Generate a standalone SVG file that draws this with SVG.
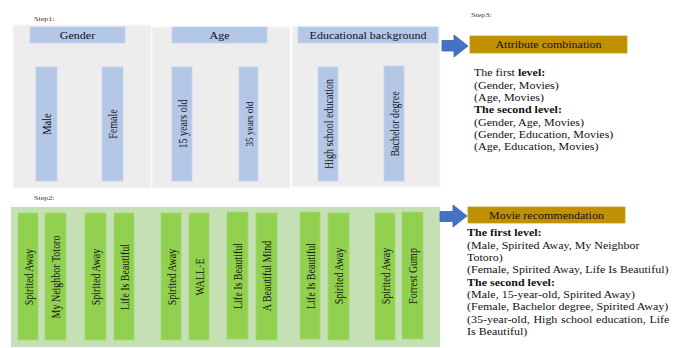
<svg xmlns="http://www.w3.org/2000/svg" width="686" height="348" viewBox="0 0 686 348">
<style>
text{font-family:"Liberation Serif","Times New Roman",serif;fill:#111}
.step{font-size:6.7px;fill:#333}
.panel{fill:#ededed;stroke:#f7f7f7;stroke-width:1}
.hdr{fill:#b4c7e7;stroke:#c5d4ee;stroke-width:0.8}
.hdrt{font-size:10px;text-anchor:middle}
.bbar{fill:#b4c7e7;stroke:#c5d4ee;stroke-width:0.8}
.gpanel{fill:#c5e0b4}
.gbar{fill:#92d050;stroke:#a6da70;stroke-width:0.8}
.vt{font-size:10px;text-anchor:middle;dominant-baseline:central}
.gold{fill:#bf9000;stroke:#c99b12;stroke-width:0.8}
.goldt{font-size:10px;text-anchor:middle}
.arrow{fill:#4472c4;stroke:#3a64b0;stroke-width:0.8}
.body{font-size:10px}
.b{font-weight:bold}
</style>

<g transform="scale(1.2,1)">
<text class="step" x="28.3" y="21.5">Step1:</text>
<text class="step" x="392.5" y="17">Step3:</text>
<text class="step" x="28.3" y="200">Step2:</text>
</g>

<g id="panel-gender">
<rect class="panel" x="13" y="25" width="138" height="163"/>
<rect class="hdr" x="30" y="27" width="95" height="16"/>
<text class="hdrt" transform="scale(1.2,1)" x="64.58" y="39">Gender</text>
<rect class="bbar" x="36" y="67" width="21" height="114"/>
<text class="vt" style="font-size:10.5px" transform="translate(47 124) scale(1.2,1) rotate(-90)">Male</text>
<rect class="bbar" x="102" y="67" width="21" height="114"/>
<text class="vt" transform="translate(113 124) scale(1.2,1) rotate(-90)">Female</text>
</g>

<g id="panel-age">
<rect class="panel" x="152" y="27" width="138" height="161"/>
<rect class="hdr" x="172" y="27" width="95" height="16"/>
<text class="hdrt" transform="scale(1.2,1)" x="182.92" y="39">Age</text>
<rect class="bbar" x="172" y="67" width="20" height="114"/>
<text class="vt" transform="translate(182.5 124) scale(1.2,1) rotate(-90)">15 years old</text>
<rect class="bbar" x="239" y="67" width="19" height="114"/>
<text class="vt" style="font-size:9.2px" transform="translate(249 124) scale(1.2,1) rotate(-90)">35 years old</text>
</g>

<g id="panel-education">
<rect class="panel" x="292" y="26" width="148" height="161"/>
<rect class="hdr" x="298" y="27" width="140" height="16"/>
<text class="hdrt" transform="scale(1.2,1)" x="306.67" y="39">Educational background</text>
<rect class="bbar" x="318" y="67" width="20" height="114"/>
<text class="vt" transform="translate(328.5 124) scale(1.2,1) rotate(-90)">High school education</text>
<rect class="bbar" x="384" y="66" width="20" height="115"/>
<text class="vt" transform="translate(394.5 124) scale(1.2,1) rotate(-90)">Bachelor degree</text>
</g>

<g id="attribute-combination">
<rect class="gold" x="470" y="36" width="157" height="17"/>
<text class="goldt" transform="scale(1.2,1)" x="457.08" y="48.5">Attribute combination</text>
<g transform="scale(1.2,1)">
<text class="body" x="395" y="76.5">The first <tspan class="b">level:</tspan></text>
<text class="body" x="395" y="88.8">(Gender, Movies)</text>
<text class="body" x="395" y="101.1">(Age, Movies)</text>
<text class="body b" x="395" y="113.4">The second level:</text>
<text class="body" x="395" y="125.7">(Gender, Age, Movies)</text>
<text class="body" x="395" y="138">(Gender, Education, Movies)</text>
<text class="body" x="395" y="150.3">(Age, Education, Movies)</text>
</g>
</g>

<g id="panel-movies">
<rect class="gpanel" x="11" y="207" width="429" height="140"/>
<rect class="gbar" x="18" y="213" width="20" height="127"/>
<text class="vt" transform="translate(28.5 277) scale(1.2,1) rotate(-90)">Spirited Away</text>
<rect class="gbar" x="45" y="213" width="21" height="127"/>
<text class="vt" transform="translate(56 277) scale(1.2,1) rotate(-90)">My Neighbor Totoro</text>
<rect class="gbar" x="85" y="213" width="21" height="127"/>
<text class="vt" transform="translate(96 277) scale(1.2,1) rotate(-90)">Spirited Away</text>
<rect class="gbar" x="114" y="213" width="20" height="127"/>
<text class="vt" transform="translate(124.5 277) scale(1.2,1) rotate(-90)">Life Is Beautiful</text>
<rect class="gbar" x="161" y="213" width="20" height="127"/>
<text class="vt" transform="translate(171.5 277) scale(1.2,1) rotate(-90)">Spirited Away</text>
<rect class="gbar" x="189" y="213" width="20" height="127"/>
<text class="vt" transform="translate(199.5 277) scale(1.2,1) rotate(-90)">WALL·E</text>
<rect class="gbar" x="227" y="212" width="21" height="127"/>
<text class="vt" transform="translate(238 276) scale(1.2,1) rotate(-90)">Life Is Beautiful</text>
<rect class="gbar" x="256" y="213" width="21" height="127"/>
<text class="vt" transform="translate(267 276) scale(1.2,1) rotate(-90)">A Beautiful Mind</text>
<rect class="gbar" x="300" y="212" width="20" height="127"/>
<text class="vt" transform="translate(310.5 276) scale(1.2,1) rotate(-90)">Life Is Beautiful</text>
<rect class="gbar" x="328" y="213" width="21" height="127"/>
<text class="vt" transform="translate(339 276) scale(1.2,1) rotate(-90)">Spirited Away</text>
<rect class="gbar" x="375" y="213" width="20" height="127"/>
<text class="vt" transform="translate(385.5 276) scale(1.2,1) rotate(-90)">Spirited Away</text>
<rect class="gbar" x="402" y="212" width="21" height="127"/>
<text class="vt" transform="translate(413 276) scale(1.2,1) rotate(-90)">Forrest Gump</text>
</g>

<g id="movie-recommendation">
<rect class="gold" x="468" y="207" width="157" height="16"/>
<text class="goldt" transform="scale(1.2,1)" x="455.42" y="219">Movie recommendation</text>
<g transform="scale(1.2,1)">
<text class="body b" x="389.2" y="236.5">The first level:</text>
<text class="body" x="389.2" y="248.8">(Male, Spirited Away, My Neighbor</text>
<text class="body" x="389.2" y="261.1">Totoro)</text>
<text class="body" x="389.2" y="273.4">(Female, Spirited Away, Life Is Beautiful)</text>
<text class="body b" x="389.2" y="285.7">The second level:</text>
<text class="body" x="389.2" y="298">(Male, 15-year-old, Spirited Away)</text>
<text class="body" x="389.2" y="310.3">(Female, Bachelor degree, Spirited Away)</text>
<text class="body" x="389.2" y="322.6" style="word-spacing:0.6px">(35-year-old, High school education, Life</text>
<text class="body" x="389.2" y="334.9">Is Beautiful)</text>
</g>
</g>

<g id="connectors">
<polygon class="arrow" points="442,40.5 454,40.5 454,35 468,46 454,57 454,51 442,51"/>
<polygon class="arrow" points="440,211.5 453,211.5 453,205 467,216 453,227 453,221.5 440,221.5"/>
</g>
</svg>
